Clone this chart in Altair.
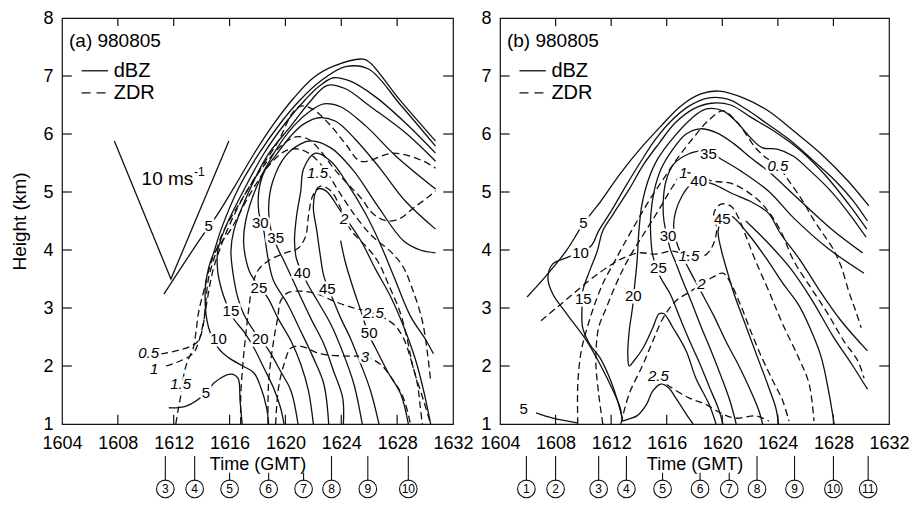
import altair as alt
import pandas as pd

# ---------------- axes -----------------
X_TICKS = [1604, 1608, 1612, 1616, 1620, 1624, 1628, 1632]
Y_TICKS = [1, 2, 3, 4, 5, 6, 7, 8]
X_INNER = [1608, 1612, 1616, 1620, 1624, 1628]
Y_INNER = [2, 3, 4, 5, 6, 7]

# ---------------- panel (a): dBZ contours (time GMT, height km) -----------------
A_DBZ_5 = [(1611.3,3.24),(1613.95,4.21),(1615.15,4.62),(1616.3,5.07),(1617.75,5.66),(1619.15,6.17),(1620.6,6.62),(1622.0,6.97),(1623.45,7.17),(1625.6,7.29),(1626.1,7.22),(1628.25,6.57),(1630.75,5.88)]
A_DBZ_10 = [(1618.8,1.0),(1618.65,1.28),(1618.25,1.62),(1617.75,1.88),(1616.95,2.0),(1615.95,2.14),(1615.25,2.29),(1614.5,2.66),(1614.25,3.29),(1614.5,3.69),(1614.9,3.98),(1615.4,4.36),(1616.65,5.07),(1618.1,5.66),(1619.65,6.19),(1621.1,6.6),(1622.5,6.91),(1624.3,7.16),(1625.95,7.12),(1628.25,6.5),(1630.75,5.79)]
A_DBZ_15 = [(1619.9,1.0),(1619.65,1.28),(1619.15,1.62),(1618.45,1.97),(1617.75,2.31),(1617.0,2.6),(1616.3,2.81),(1615.75,3.09),(1615.4,3.34),(1615.15,3.64),(1615.15,3.98),(1615.65,4.36),(1617.1,5.07),(1618.45,5.66),(1620.0,6.19),(1621.45,6.6),(1622.5,6.84),(1623.45,6.97),(1624.65,6.91),(1626.45,6.64),(1628.6,6.19),(1630.75,5.67)]
A_DBZ_20 = [(1620.9,1.0),(1620.4,1.57),(1619.65,1.91),(1618.75,2.29),(1617.75,2.6),(1617.0,2.9),(1616.6,3.17),(1616.25,3.59),(1616.1,3.98),(1616.3,4.33),(1617.5,5.07),(1618.8,5.66),(1620.4,6.14),(1621.8,6.57),(1623.0,6.84),(1624.3,6.78),(1626.1,6.47),(1628.6,6.02),(1630.75,5.53)]
A_DBZ_25 = [(1622.0,1.0),(1621.65,1.57),(1621.1,2.03),(1620.4,2.43),(1619.45,2.83),(1618.75,3.17),(1617.5,3.59),(1617.15,3.86),(1617.0,4.16),(1617.15,4.5),(1617.9,5.07),(1619.15,5.66),(1620.6,6.14),(1621.8,6.4),(1622.75,6.52),(1623.95,6.47),(1625.75,6.14),(1627.9,5.62),(1630.75,5.05)]
A_DBZ_30 = [(1623.1,1.0),(1622.75,1.69),(1622.0,2.14),(1621.1,2.6),(1620.15,3.07),(1619.15,3.47),(1618.75,3.86),(1618.45,4.33),(1618.1,4.64),(1618.1,5.02),(1618.5,5.36),(1619.4,5.66),(1620.4,5.97),(1621.3,6.17),(1622.4,6.28),(1623.6,6.22),(1625.0,5.91),(1626.8,5.4),(1628.6,4.84),(1630.75,4.36)]
A_DBZ_35 = [(1624.15,1.0),(1624.1,1.45),(1623.45,1.91),(1622.75,2.38),(1621.8,2.83),(1620.9,3.29),(1620.0,3.76),(1619.45,4.03),(1618.95,4.36),(1618.8,4.76),(1619.1,5.19),(1620.0,5.62),(1621.1,5.83),(1621.8,5.88),(1623.25,5.76),(1624.9,5.36),(1626.6,4.76),(1628.45,4.16),(1629.65,4.0),(1630.75,3.95)]
A_DBZ_40 = [(1625.5,1.0),(1624.9,1.69),(1624.15,2.21),(1623.25,2.72),(1622.3,3.12),(1621.6,3.41),(1620.8,3.84),(1620.65,4.16),(1620.8,4.59),(1621.1,5.02),(1621.3,5.4),(1622.15,5.67),(1623.25,5.53),(1624.45,5.14),(1625.75,4.62),(1626.8,4.1),(1627.75,3.55),(1628.95,2.86),(1630.0,2.47),(1630.6,2.21)]
A_DBZ_45 = [(1626.7,1.0),(1626.1,1.57),(1625.4,2.03),(1624.65,2.48),(1623.95,2.83),(1623.45,3.12),(1622.75,3.55),(1622.5,3.9),(1622.25,4.33),(1622.0,4.76),(1622.3,5.05),(1622.9,5.02),(1623.95,4.67),(1625.4,4.16),(1626.45,3.67),(1627.5,3.21),(1628.45,2.69),(1629.3,2.12),(1629.9,1.57),(1630.4,1.0)]
A_DBZ_50 = [(1628.8,1.0),(1628.25,1.52),(1627.3,1.91),(1626.45,2.31),(1625.95,2.55),(1625.4,2.95),(1624.8,3.38),(1624.3,3.78),(1623.95,4.16)]
A_DBZ_5_LOW = [(1611.65,1.28),(1612.9,1.31),(1614.3,1.53),(1614.9,1.71),(1616.1,1.86),(1616.6,1.79),(1616.75,1.4),(1616.9,1.0)]

# panel (a): ZDR contours (dB)
A_ZDR_05 = [(1611.1,2.21),(1612.15,2.26),(1613.1,2.33),(1613.75,2.43),(1614.1,2.69),(1614.3,3.12),(1614.5,3.52),(1614.9,3.86),(1615.5,4.29),(1616.8,4.84),(1618.1,5.36),(1619.5,5.88),(1620.5,6.36),(1621.1,6.48),(1621.95,6.43),(1623.25,6.14),(1624.3,5.83),(1625.4,5.53),(1627.75,5.67),(1629.9,5.53),(1630.75,5.41)]
A_ZDR_1 = [(1611.45,2.0),(1612.5,2.09),(1613.4,2.22),(1613.8,2.43),(1614.15,2.78),(1614.45,3.21),(1614.8,3.64),(1615.25,3.98),(1615.95,4.41),(1617.15,4.98),(1618.6,5.5),(1619.9,5.84),(1620.75,5.95),(1621.65,5.91),(1622.5,5.71),(1623.45,5.41),(1624.45,5.14),(1625.4,4.9),(1626.3,4.62),(1627.3,4.5),(1628.25,4.55),(1629.15,4.72),(1630.15,4.9),(1630.75,5.02)]
A_ZDR_15 = [(1612.15,1.0),(1612.3,1.22),(1612.5,1.48),(1612.75,1.88),(1613.0,2.09),(1613.4,2.31),(1613.6,2.6),(1613.8,2.95),(1614.15,3.29),(1614.5,3.64),(1615.0,3.98),(1616.1,4.36),(1617.5,4.98),(1618.8,5.45),(1620.0,5.71),(1620.95,5.74),(1621.95,5.62),(1622.9,5.36),(1623.8,5.02),(1625.0,4.59),(1626.2,4.24),(1627.5,3.98),(1628.4,3.72),(1629.15,3.29),(1629.8,2.78),(1630.15,2.26),(1630.4,1.74)]
A_ZDR_2 = [(1616.8,1.0),(1616.8,1.48),(1616.95,2.03),(1617.15,2.52),(1617.4,3.03),(1617.65,3.41),(1618.1,3.67),(1618.95,3.84),(1620.0,3.95),(1620.9,4.03),(1621.45,4.24),(1621.65,4.59),(1621.95,4.93),(1622.5,5.1),(1623.25,5.02),(1623.95,4.72),(1624.3,4.5),(1624.9,4.28),(1625.9,4.03),(1626.6,3.81),(1627.5,3.34),(1628.25,2.9),(1628.75,2.43),(1629.15,1.97),(1629.9,1.4),(1630.4,1.0)]
A_ZDR_25 = [(1618.75,1.0),(1618.8,1.74),(1619.15,2.43),(1619.45,2.83),(1619.65,3.12),(1620.15,3.26),(1621.1,3.29),(1622.3,3.24),(1623.45,3.12),(1624.9,3.0),(1626.3,2.91),(1627.75,2.72),(1628.45,2.48),(1628.95,2.14),(1629.45,1.69),(1629.65,1.31),(1629.8,1.0)]
A_ZDR_3 = [(1619.3,1.0),(1619.5,1.62),(1619.9,2.03),(1620.4,2.31),(1621.1,2.34),(1622.5,2.21),(1624.45,2.17),(1625.7,2.16),(1626.8,2.03),(1627.75,1.74),(1628.45,1.45),(1628.95,1.0)]

A_SCALE_BAR = [(1607.75,5.88),(1611.8,3.5),(1615.95,5.88)]

A_DBZ_LABELS = ["5","30","35","40","25","45","15","50","10","20","5"]
A_DBZ_LABEL_T = [1614.5,1618.2,1619.3,1621.2,1618.1,1623.0,1616.1,1626.0,1615.2,1618.2,1614.3]
A_DBZ_LABEL_H = [4.41,4.47,4.21,3.6,3.34,3.33,2.95,2.57,2.47,2.47,1.53]
A_ZDR_LABELS = ["1.5","2","2.5","0.5","3","1","1.5"]
A_ZDR_LABEL_T = [1622.3,1624.2,1626.3,1610.2,1625.7,1610.6,1612.5]
A_ZDR_LABEL_H = [5.33,4.53,2.91,2.22,2.16,1.95,1.69]

A_SCAN_NUM = ["3","4","5","6","7","8","9","10"]
A_SCAN_T = [1611.4,1613.5,1616.0,1618.8,1621.3,1623.3,1625.9,1628.8]
A_SCAN_LONG = [True,True,False,False,False,True,True,True]

# ---------------- panel (b) -----------------
B_DBZ_5 = [(1605.95,3.19),(1607.3,3.55),(1608.75,3.98),(1610.05,4.47),(1611.25,4.84),(1612.7,5.33),(1614.15,5.76),(1615.6,6.14),(1617.0,6.48),(1618.45,6.69),(1619.75,6.74),(1621.55,6.62),(1623.3,6.4),(1625.15,6.05),(1627.1,5.66),(1629.05,5.19),(1630.55,4.76)]
B_DBZ_10 = [(1612.8,1.05),(1612.65,1.28),(1612.15,1.57),(1611.2,2.03),(1610.25,2.43),(1608.8,2.9),(1607.8,3.24),(1607.45,3.52),(1607.8,3.76),(1608.95,3.88),(1610.55,4.07),(1611.1,4.33),(1612.0,4.67),(1613.05,5.1),(1614.15,5.53),(1615.2,5.91),(1616.3,6.22),(1617.6,6.48),(1618.95,6.62),(1620.4,6.6),(1621.7,6.43),(1623.15,6.19),(1624.95,5.88),(1626.6,5.53),(1628.15,5.19),(1629.45,4.84),(1630.45,4.5)]
B_DBZ_15 = [(1612.8,1.1),(1612.4,1.45),(1611.9,1.79),(1611.2,2.14),(1610.45,2.38),(1609.95,2.66),(1609.9,3.0),(1609.95,3.29),(1610.45,3.64),(1611.0,3.98),(1611.4,4.33),(1612.15,4.62),(1613.3,5.05),(1614.35,5.48),(1615.45,5.84),(1616.6,6.19),(1617.9,6.43),(1619.2,6.53),(1620.6,6.5),(1622.05,6.29),(1623.85,6.03),(1625.65,5.71),(1627.45,5.28),(1629.1,4.79),(1630.4,4.36)]
B_DBZ_20 = [(1619.55,1.0),(1619.05,1.34),(1618.1,1.79),(1617.4,2.26),(1616.45,2.66),(1615.8,2.9),(1615.45,2.9),(1615.0,2.66),(1614.3,2.31),(1613.65,2.09),(1613.3,2.0),(1613.2,2.21),(1613.3,2.6),(1613.55,3.03),(1613.7,3.41),(1613.85,3.76),(1614.0,4.33),(1614.2,4.76),(1614.65,5.19),(1615.35,5.57),(1616.45,5.93),(1617.75,6.26),(1618.8,6.43),(1620.05,6.4),(1621.1,6.19),(1622.05,5.93),(1622.9,5.76),(1623.95,5.74),(1625.1,5.62),(1626.35,5.36),(1627.8,5.02),(1629.25,4.59),(1630.35,4.22)]
B_DBZ_25 = [(1620.05,1.0),(1619.7,1.28),(1619.1,1.62),(1618.4,2.03),(1617.65,2.43),(1616.95,2.83),(1616.25,3.24),(1615.5,3.55),(1615.0,3.9),(1614.85,4.24),(1614.85,4.59),(1615.1,5.02),(1615.6,5.4),(1616.45,5.74),(1617.4,6.0),(1618.4,6.09),(1619.6,6.02),(1620.85,5.83),(1622.05,5.59),(1623.3,5.36),(1625.65,4.84),(1628.0,4.33),(1630.1,3.95)]
B_DBZ_30 = [(1621.0,1.0),(1620.55,1.4),(1619.9,1.83),(1619.2,2.26),(1618.45,2.69),(1617.75,3.12),(1617.15,3.47),(1616.65,3.78),(1616.25,4.02),(1615.8,4.5),(1615.75,4.84),(1615.95,5.19),(1616.5,5.48),(1617.6,5.66),(1618.45,5.71)]
B_DBZ_35 = [(1619.55,5.62),(1619.9,5.57),(1621.35,5.36),(1623.3,5.02),(1625.15,4.55),(1627.6,4.03),(1630.2,3.6)]
B_DBZ_40 = [(1622.9,1.0),(1622.65,1.22),(1622.05,1.57),(1621.2,2.0),(1620.25,2.43),(1619.4,2.86),(1618.45,3.29),(1617.6,3.67),(1616.8,4.07),(1616.5,4.41),(1616.65,4.67),(1617.1,4.93),(1617.6,5.1),(1618.3,5.19),(1619.3,5.14),(1620.75,4.97),(1622.0,4.84),(1623.3,4.64),(1624.2,4.28),(1625.65,3.81),(1626.9,3.34),(1628.55,2.78),(1630.45,2.26)]
B_DBZ_42 = [(1621.7,4.5),(1623.3,4.12),(1624.95,3.67),(1626.5,3.12),(1627.95,2.52),(1629.4,2.0),(1630.45,1.6)]
B_DBZ_45 = [(1624.05,1.0),(1623.85,1.28),(1623.3,1.66),(1622.55,2.14),(1621.7,2.69),(1620.85,3.24),(1620.25,3.72),(1619.9,4.03),(1619.7,4.33),(1620.0,4.53),(1620.6,4.59),(1621.85,4.28),(1623.3,3.81),(1624.35,3.43),(1625.45,3.07),(1626.25,2.69),(1627.1,2.17),(1627.65,1.57),(1628.05,1.0)]
B_DBZ_BUMP = [(1612.8,1.05),(1613.3,1.09),(1613.85,1.14),(1614.55,1.34),(1615.0,1.57),(1615.6,1.69),(1616.15,1.62),(1616.65,1.45),(1617.6,1.1),(1617.9,1.0)]
B_DBZ_5_LOW = [(1606.6,1.19),(1607.8,1.1),(1609.55,1.02)]

B_ZDR_05 = [(1609.6,1.0),(1609.6,1.69),(1609.85,2.26),(1610.35,2.72),(1610.9,3.12),(1611.5,3.47),(1612.15,3.76),(1612.85,4.07),(1613.8,4.47),(1614.7,4.84),(1615.75,5.22),(1616.8,5.59),(1617.9,5.93),(1618.95,6.22),(1620.05,6.4),(1621.0,6.22),(1621.7,6.0),(1622.4,5.76),(1623.15,5.59),(1624.0,5.45),(1624.8,5.19),(1625.8,4.84),(1626.5,4.55),(1627.25,4.28),(1627.95,4.03),(1628.55,3.72),(1629.1,3.29),(1629.6,2.95),(1630.0,2.66)]
B_ZDR_1 = [(1611.4,1.0),(1611.1,1.52),(1610.9,2.09),(1611.1,2.66),(1611.65,3.0),(1612.35,3.41),(1613.05,3.76),(1613.8,4.07),(1614.7,4.41),(1615.6,4.76),(1616.45,5.1),(1617.2,5.33),(1619.3,5.19),(1620.75,5.14),(1622.4,4.9),(1623.3,4.67),(1624.2,4.33),(1625.15,3.81),(1626.4,3.34),(1627.6,2.9),(1628.75,2.43),(1629.75,2.09),(1630.2,1.79)]
B_ZDR_15 = [(1606.95,2.78),(1608.05,3.0),(1609.25,3.24),(1610.4,3.47),(1611.65,3.69),(1612.85,3.86),(1614.0,3.95),(1615.2,3.93),(1616.45,3.98),(1617.6,3.9),(1618.7,3.9),(1619.3,4.07),(1619.6,4.36),(1619.4,4.64),(1619.9,4.79),(1620.6,4.76),(1621.1,4.59),(1621.7,4.24),(1622.4,3.81),(1623.35,3.29),(1624.35,2.72),(1625.5,2.14),(1626.25,1.69),(1626.6,1.05)]
B_ZDR_2 = [(1612.7,1.0),(1613.3,1.52),(1614.3,2.03),(1615.0,2.43),(1615.75,2.83),(1616.65,3.12),(1617.75,3.29),(1618.5,3.41),(1619.3,3.53),(1620.05,3.6),(1620.6,3.43),(1621.35,3.03),(1622.05,2.6),(1622.8,2.17),(1623.65,1.74),(1624.35,1.4),(1624.8,1.05)]
B_ZDR_25 = [(1616.0,1.68),(1617.6,1.45),(1618.8,1.34),(1620.05,1.17),(1621.0,1.1),(1622.4,1.14),(1623.35,1.05)]

B_DBZ_LABELS = ["35","40","45","5","30","10","25","15","20","5"]
B_DBZ_LABEL_T = [1619.0,1618.3,1620.0,1610.0,1616.1,1609.8,1615.4,1610.0,1613.6,1605.7]
B_DBZ_LABEL_H = [5.66,5.19,4.53,4.47,4.24,3.95,3.69,3.16,3.21,1.26]
B_ZDR_LABELS = ["0.5","1","1.5","2","2.5"]
B_ZDR_LABEL_T = [1624.0,1617.2,1617.6,1618.5,1615.4]
B_ZDR_LABEL_H = [5.45,5.33,3.9,3.41,1.83]

B_SCAN_NUM = ["1","2","3","4","5","6","7","8","9","10","11"]
B_SCAN_T = [1605.9,1608.0,1611.1,1613.1,1615.7,1618.4,1620.5,1622.5,1625.2,1628.0,1630.5]
B_SCAN_LONG = [True,True,True,True,False,False,False,True,True,True,True]

FONT = "Liberation Sans"
XS = alt.Scale(domain=[1604, 1632], nice=False, zero=False)
YS = alt.Scale(domain=[1, 8], nice=False, zero=False)
XAX = alt.Axis(values=X_TICKS, format="d", title="Time (GMT)", labelFontSize=18, titleFontSize=18,
               labelPadding=10, titlePadding=3, ticks=False, tickSize=0, domain=False, grid=False,
               labelFlush=False, labelOverlap=False, labelColor="black", titleColor="black",
               titleFontWeight="normal", labelFont=FONT, titleFont=FONT)


def yaxis(title):
    kw = dict(values=Y_TICKS, format="d", labelFontSize=18, titleFontSize=19, labelPadding=9,
              titlePadding=13, ticks=False, tickSize=0, domain=False, grid=False, labelFlush=False,
              labelOverlap=False, labelColor="black", titleColor="black", titleFontWeight="normal",
              labelFont=FONT, titleFont=FONT)
    return alt.Axis(title=title, **kw)


def table(named):
    rows = []
    for cid, pts in named.items():
        for i, (t, h) in enumerate(pts):
            rows.append({"cid": cid, "ord": i, "t": t, "h": h})
    return pd.DataFrame(rows)


def panel(solid, dashed, dl, dt, dh, zl, zt, zh, snum, st, slong, tag, ytitle, bar=None):
    yax = yaxis(ytitle)
    X = lambda f: alt.X(f, type="quantitative", scale=XS, axis=XAX)
    Y = lambda f: alt.Y(f, type="quantitative", scale=YS, axis=yax)
    layers = []
    layers.append(alt.Chart(table(solid)).mark_line(interpolate="catmull-rom", color="#111", strokeWidth=1.3)
                  .encode(x=X("t"), y=Y("h"), detail="cid:N", order="ord:Q"))
    layers.append(alt.Chart(table(dashed)).mark_line(interpolate="catmull-rom", color="#111", strokeWidth=1.3,
                                                     strokeDash=[7, 4])
                  .encode(x=X("t"), y=Y("h"), detail="cid:N", order="ord:Q"))
    if bar is not None:
        layers.append(alt.Chart(table({"bar": bar})).mark_line(color="#111", strokeWidth=1.3)
                      .encode(x=X("t"), y=Y("h"), detail="cid:N", order="ord:Q"))
        txt = pd.DataFrame({"t": [1609.7], "h": [5.22], "s": ["10 ms"]})
        sup = pd.DataFrame({"t": [1613.45], "h": [5.34], "s": ["-1"]})
        layers.append(alt.Chart(txt).mark_text(align="left", baseline="middle", fontSize=19, font=FONT, color="black")
                      .encode(x=X("t"), y=Y("h"), text="s:N"))
        layers.append(alt.Chart(sup).mark_text(align="left", baseline="middle", fontSize=12, font=FONT, color="black")
                      .encode(x=X("t"), y=Y("h"), text="s:N"))
    dlab = pd.DataFrame({"t": dt, "h": dh, "s": dl})
    zlab = pd.DataFrame({"t": zt, "h": zh, "s": zl})
    for df, style in ((dlab, "normal"), (zlab, "italic")):
        layers.append(alt.Chart(df).mark_text(fontSize=15, font=FONT, fontStyle=style, color="white",
                                              stroke="white", strokeWidth=5, baseline="middle")
                      .encode(x=X("t"), y=Y("h"), text="s:N"))
        layers.append(alt.Chart(df).mark_text(fontSize=15, font=FONT, fontStyle=style, color="black",
                                              baseline="middle")
                      .encode(x=X("t"), y=Y("h"), text="s:N"))
    # panel tag and legend
    tagdf = pd.DataFrame({"t": [1604.5], "h": [7.6], "s": [tag]})
    layers.append(alt.Chart(tagdf).mark_text(align="left", baseline="middle", fontSize=19, font=FONT, color="black")
                  .encode(x=X("t"), y=Y("h"), text="s:N"))
    leg = pd.DataFrame({"t": [1605.4, 1605.4], "t2": [1607.3, 1607.3], "h": [7.09, 6.71],
                        "tx": [1607.7, 1607.7], "s": ["dBZ", "ZDR"], "k": ["a", "b"]})
    layers.append(alt.Chart(leg[leg.k == "a"]).mark_rule(color="#111", strokeWidth=1.3)
                  .encode(x=X("t"), x2="t2:Q", y=Y("h")))
    layers.append(alt.Chart(leg[leg.k == "b"]).mark_rule(color="#111", strokeWidth=1.3, strokeDash=[9, 6])
                  .encode(x=X("t"), x2="t2:Q", y=Y("h")))
    layers.append(alt.Chart(leg).mark_text(align="left", baseline="middle", fontSize=20, font=FONT, color="black")
                  .encode(x=X("tx"), y=Y("h"), text="s:N"))
    # inward ticks on all four sides
    tk = []
    for v in Y_INNER:
        tk.append({"t": 1604, "t2": 1604.7, "h": v, "h2": v})
        tk.append({"t": 1631.3, "t2": 1632, "h": v, "h2": v})
    for v in X_INNER:
        tk.append({"t": v, "t2": v, "h": 1, "h2": 1.16})
        tk.append({"t": v, "t2": v, "h": 7.86, "h2": 8})
    layers.append(alt.Chart(pd.DataFrame(tk)).mark_rule(color="#111", strokeWidth=1.2)
                  .encode(x=X("t"), x2="t2:Q", y=Y("h"), y2="h2:Q"))
    # scan markers under the time axis
    sc = pd.DataFrame({"t": st, "s": snum, "top": [0.45 if l else 0.16 for l in slong],
                       "bot": [0.02] * len(st), "c": [-0.12] * len(st)})
    layers.append(alt.Chart(sc).mark_rule(color="#111", strokeWidth=1.1)
                  .encode(x=X("t"), y=Y("top"), y2="bot:Q"))
    layers.append(alt.Chart(sc).mark_point(shape="circle", size=310, filled=True, fill="white", stroke="#111",
                                           strokeWidth=1.1, opacity=1)
                  .encode(x=X("t"), y=Y("c")))
    layers.append(alt.Chart(sc).mark_text(fontSize=12, font=FONT, color="black", baseline="middle")
                  .encode(x=X("t"), y=Y("c"), text="s:N"))
    return alt.layer(*layers)


left = panel({"5": A_DBZ_5, "10": A_DBZ_10, "15": A_DBZ_15, "20": A_DBZ_20, "25": A_DBZ_25, "30": A_DBZ_30,
              "35": A_DBZ_35, "40": A_DBZ_40, "45": A_DBZ_45, "50": A_DBZ_50, "5b": A_DBZ_5_LOW},
             {"0.5": A_ZDR_05, "1": A_ZDR_1, "1.5": A_ZDR_15, "2": A_ZDR_2, "2.5": A_ZDR_25, "3": A_ZDR_3},
             A_DBZ_LABELS, A_DBZ_LABEL_T, A_DBZ_LABEL_H, A_ZDR_LABELS, A_ZDR_LABEL_T, A_ZDR_LABEL_H,
             A_SCAN_NUM, A_SCAN_T, A_SCAN_LONG, "(a) 980805", "Height (km)", bar=A_SCALE_BAR
             ).properties(width=391, height=406)

right = panel({"5": B_DBZ_5, "10": B_DBZ_10, "15": B_DBZ_15, "20": B_DBZ_20, "25": B_DBZ_25, "30": B_DBZ_30,
               "35": B_DBZ_35, "40": B_DBZ_40, "42": B_DBZ_42, "45": B_DBZ_45, "bump": B_DBZ_BUMP,
               "5b": B_DBZ_5_LOW},
              {"0.5": B_ZDR_05, "1": B_ZDR_1, "1.5": B_ZDR_15, "2": B_ZDR_2, "2.5": B_ZDR_25},
              B_DBZ_LABELS, B_DBZ_LABEL_T, B_DBZ_LABEL_H, B_ZDR_LABELS, B_ZDR_LABEL_T, B_ZDR_LABEL_H,
              B_SCAN_NUM, B_SCAN_T, B_SCAN_LONG, "(b) 980805", None
              ).properties(width=389, height=406)

chart = alt.hconcat(left, right, spacing=47, bounds="flush").properties(
    padding={"left": 10, "top": 8, "right": 5, "bottom": 5},
    background="white",
).configure_view(stroke="#111", strokeWidth=1.2)

chart.save("out.html", embed_options={"renderer": "svg", "actions": False})
